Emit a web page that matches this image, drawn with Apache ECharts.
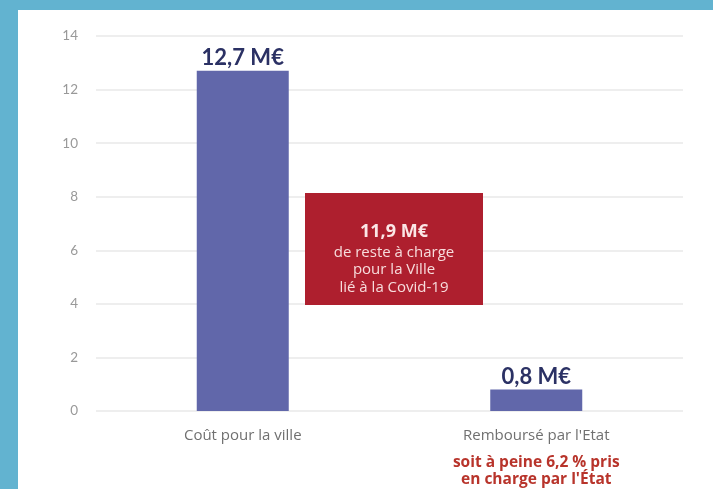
<!DOCTYPE html>
<html lang="fr">
<head>
    <meta charset="UTF-8">
    <title>Coût Covid-19</title>
    <script src="https://cdn.jsdelivr.net/npm/echarts@6/dist/echarts.min.js"></script>
    <style>
        body { margin: 0; background: #62b3d0; }
        #wrap { position: relative; width: 713px; height: 489px; overflow: hidden; }
        #demo { position: absolute; left: 18px; top: 10px; width: 695px; height: 479px; background: #fff; }
    </style>
</head>
<body>
<div id="wrap"><div id="demo"></div></div>
<script>
    var categories = ['Coût pour la ville', "Remboursé par l'Etat"];
    var values = [12.7, 0.8];
    var notes = ['', "soit à peine 6,2 % pris\nen charge par l'État"];
    var boxTitle = '11,9 M€';
    var boxLines = ['de reste à charge', 'pour la Ville', 'lié à la Covid-19'];

    var myChart = echarts.init(document.getElementById('demo'));
    var option = {
        animation: false,
        textStyle: { fontFamily: 'Lato' },
        grid: { left: 78, right: 30, top: 26, bottom: 78 },
        xAxis: {
            type: 'category',
            data: categories,
            axisLine: { show: false },
            axisTick: { show: false },
            axisLabel: {
                margin: 7,
                formatter: function (v, i) {
                    var s = '{g|' + v + '}';
                    if (notes[i]) {
                        s += '\n' + notes[i].split('\n').map(function (l) { return '{r|' + l + '}'; }).join('\n');
                    }
                    return s;
                },
                rich: {
                    g: { color: '#707070', fontSize: 15, lineHeight: 36, fontFamily: 'Open Sans' },
                    r: { color: '#b8342b', fontSize: 15.5, fontWeight: 'bold', lineHeight: 17, fontFamily: 'Open Sans' }
                }
            }
        },
        yAxis: {
            type: 'value',
            min: 0,
            max: 14,
            interval: 2,
            axisLabel: { color: '#999999', fontSize: 13.5, margin: 18 },
            splitLine: { lineStyle: { color: '#e8e8e8', width: 1.5 } }
        },
        series: [{
            type: 'bar',
            data: values,
            barWidth: 92,
            itemStyle: { color: '#6167aa' },
            label: {
                show: true,
                position: 'top',
                distance: 2,
                color: '#2b3164',
                fontSize: 22,
                fontWeight: 'bold',
                fontFamily: 'Lato',
                formatter: function (p) {
                    return p.value.toFixed(1).replace('.', ',') + ' M€';
                }
            }
        }],
        graphic: [{
            type: 'group',
            left: 287,
            top: 183,
            children: [{
                type: 'rect',
                z: 100,
                shape: { x: 0, y: 0, width: 178, height: 112 },
                style: { fill: '#ae1f2e' }
            }, {
                type: 'text',
                z: 101,
                x: 89,
                y: 39,
                style: {
                    text: boxTitle,
                    fill: '#fbe6e6',
                    font: 'bold 18px "Open Sans"',
                    align: 'center',
                    verticalAlign: 'middle'
                }
            }, {
                type: 'text',
                z: 101,
                x: 89,
                y: 77,
                style: {
                    text: boxLines.join('\n'),
                    fill: '#f7dcdc',
                    font: '15px "Open Sans"',
                    lineHeight: 17.5,
                    align: 'center',
                    verticalAlign: 'middle'
                }
            }]
        }]
    };
    myChart.setOption(option);
</script>
</body>
</html>
